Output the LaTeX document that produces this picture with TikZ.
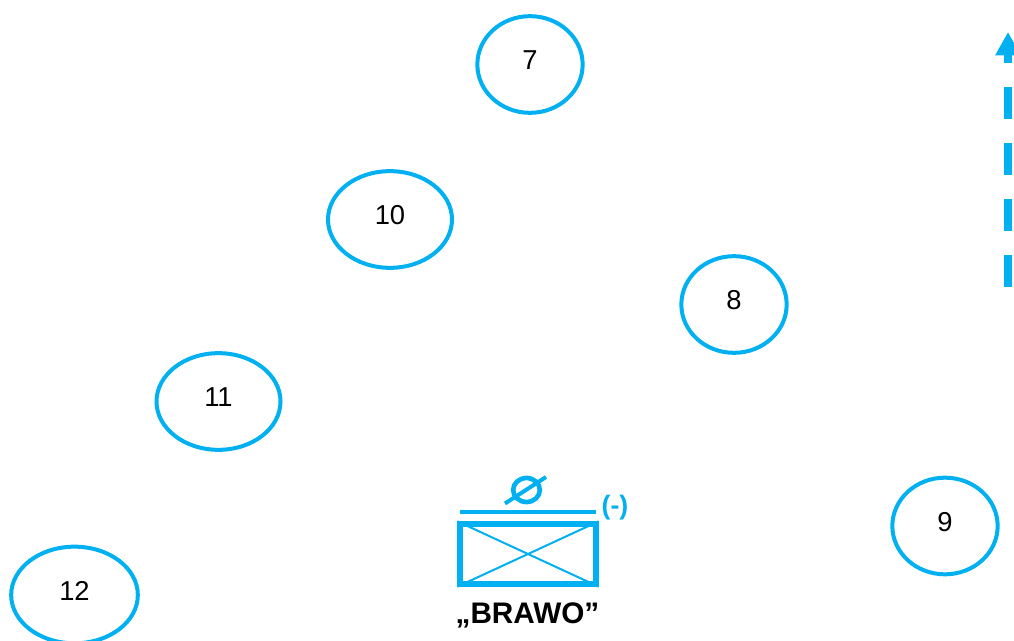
\documentclass[tikz,border=0pt]{standalone}
\usepackage{fontspec}
\setmainfont{Liberation Sans}
\usetikzlibrary{arrows.meta,positioning,shapes.geometric}
\definecolor{bluish}{HTML}{00B0F0}

\begin{document}
\begin{tikzpicture}[x=0.75pt,y=-0.75pt,>=Triangle,
    bubble/.style={ellipse,draw=bluish,line width=3pt,inner sep=0pt,minimum width=79pt,minimum height=72.5pt,font=\fontsize{20.5}{24}\selectfont,text depth=6.5pt},
    widebubble/.style={bubble,minimum width=93pt},
    bar/.style={draw=bluish,line width=3pt},
    thinbar/.style={draw=bluish,line width=1.5pt}]

                \useasboundingbox (0,0) rectangle (1014,641);

                \node[bubble] (n7) at (530,64.5) {7};

                \node[widebubble] (n10) at (390,219.5) {10};

                \node[bubble] (n8) at (734,304.5) {8};

                \node[widebubble] (n11) at (218.5,401.5) {11};

                \node[bubble] (n9) at (945,526) {9};

                \node[widebubble,minimum width=95pt] (n12) at (74.5,595) {12};

                

                \node[draw=bluish,line width=4pt,inner sep=0pt,minimum width=102pt,minimum height=45pt] (box) at (528,554) {};

                \node[font=\fontsize{22.3}{27}\bfseries\selectfont] (name) at (527.5,615) {„BRAWO”};

                \node[font=\fontsize{20}{24}\bfseries\selectfont,text=bluish] (minus) at (615,508) {(-)};

                \node[ellipse,draw=bluish,line width=3.5pt,inner sep=0pt,minimum width=20pt,minimum height=18pt] (zero) at (526.5,490) {};

                

                \coordinate (barl) at (460,512);
                \coordinate (barr) at (596,512);
                \coordinate (slasha) at (505,503.5);
                \coordinate (slashb) at (546,477);
                \coordinate (arrowa) at (1008,287);
                \coordinate (arrowb) at (1008,32);

                

                \path[bar] (barl) -- (barr);
                \path[bar] (slasha) -- (slashb);
                \path[thinbar] (box.north west) -- (box.south east);
                \path[thinbar] (box.south west) -- (box.north east);
                \draw[->,bluish,line width=6pt,dash pattern=on 24pt off 18pt,arrows={-Triangle[width=18pt,length=17.5pt]}] (arrowa) -- (arrowb);

            \end{tikzpicture}
\end{document}
